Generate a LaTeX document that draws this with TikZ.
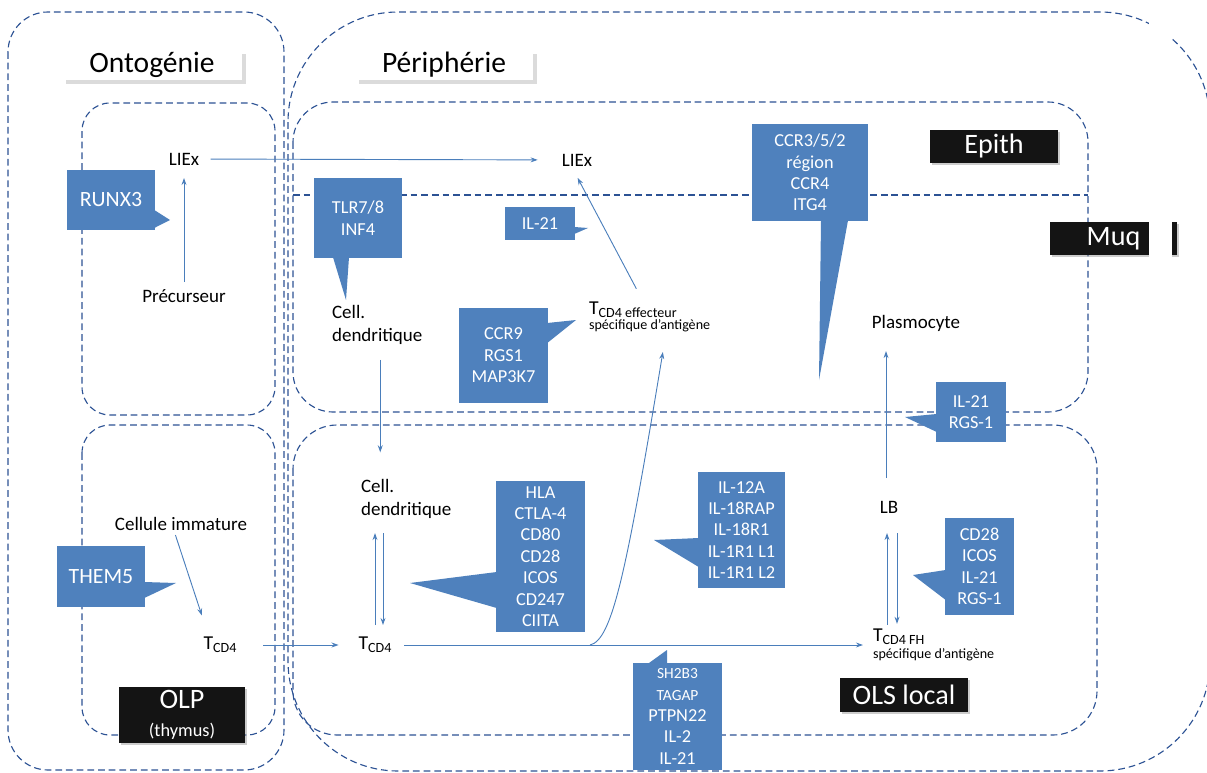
\documentclass[tikz,border=0pt]{standalone}
\usepackage{fontspec}
\setmainfont{Carlito}
\usetikzlibrary{arrows.meta,calc,shadows}

\definecolor{frameblue}{RGB}{44,82,148}
\definecolor{lineblue}{RGB}{74,126,187}
\definecolor{boxblue}{RGB}{79,129,189}

\newcommand\tcell[1]{{\fontsize{14}{16}\selectfont T}\raisebox{-2pt}{\fontsize{10}{11}\selectfont #1}}

\begin{document}
\begin{tikzpicture}[x=0.025cm, y=-0.025cm,
	zone/.style={draw=frameblue, line width=0.8pt, dash pattern=on 4.8pt off 2.8pt},
	flow/.style={draw=lineblue, line width=0.65pt, -{Stealth[length=5pt,width=3.5pt]}},
	cell/.style={font=\fontsize{13.5}{16.5}\selectfont, inner sep=2pt},
	callout/.style={fill=boxblue, text=white, align=center, inner sep=0pt, font=\fontsize{13}{15.2}\selectfont},
	title/.style={fill=white, inner sep=0pt, minimum height=0.75cm, font=\fontsize{21}{24}\selectfont, drop shadow={shadow xshift=0.09cm, shadow yshift=-0.09cm, fill=black!40, opacity=0.35}},
	site/.style={fill=black!92, text=white, inner sep=0pt, font=\fontsize{20}{23}\selectfont, drop shadow={shadow xshift=0.06cm, shadow yshift=-0.06cm, fill=black!50, opacity=0.4}}]
	\useasboundingbox (0,0) rectangle (1207,773);
	
	% Draw dashed zones
	\draw[zone, rounded corners=1cm] (8,12) rectangle (284,770);
	\draw[zone, rounded corners=0.7cm] (82,103) rectangle (275,415);
	\draw[zone, rounded corners=0.7cm] (82,425) rectangle (275,735);
	\draw[zone, rounded corners=2.75cm] (288,12) rectangle (1210,771);
	\draw[zone, rounded corners=1cm] (293,102) rectangle (1088,412);
	\draw (293,195) [zone] -- (1088,195);
	\draw[zone, rounded corners=1.1cm] (293,425) rectangle (1097,735);
	
	% Draw zone titles
	\node[title, minimum width=4.5cm] (onto) at (152,65) {Ontogénie};
	\node[title, minimum width=4.45cm] (peri) at (444,65) {Périphérie};
	\node[site, minimum width=3.2cm, minimum height=0.825cm] (epith) at (994,146.5) {Epith};
	\node[site, minimum width=3.175cm, minimum height=0.825cm] (muq) at (1113.5,238.5) {Muq};
	\node[site, minimum width=3.2cm, minimum height=0.85cm] (ols) at (904,695) {OLS local};
	\node[site, minimum width=3.15cm, minimum height=1.4cm, align=center] (olp) at (182,715) {OLP\\[-3pt]{\fontsize{13}{14}\selectfont(thymus)}};
	\fill[white] (1149,0) rectangle (1172,265);
	
	% Draw gene callouts
	\node[callout, minimum width=2.2cm, minimum height=1.5cm, font=\fontsize{15.5}{17}\selectfont] (runx) at (111,200) {RUNX3};
	\fill[boxblue] ($(runx.east)+(-1,10)$) -- (170,220) -- ($(runx.east)+(-1,28)$) -- cycle;
	
	\node[callout, minimum width=2.2cm, minimum height=2cm] (tlr) at (358,218) {TLR7/8\\INF4};
	\fill[boxblue] ($(tlr.south)+(-25,-1)$) -- (346,300) -- ($(tlr.south)+(-9,-1)$) -- cycle;
	
	\node[callout, minimum width=1.75cm, minimum height=0.825cm] (iltop) at (540,223.5) {IL-21};
	\fill[boxblue] ($(iltop.east)+(-1,3.5)$) -- (588,228) -- ($(iltop.east)+(-1,10.5)$) -- cycle;
	
	\node[callout, minimum width=2.225cm, minimum height=2.375cm] (ccr9) at (503.5,355.5) {CCR9\\RGS1\\MAP3K7};
	\fill[boxblue] ($(ccr9.east)+(-1,-32.5)$) -- (576,320) -- ($(ccr9.east)+(-1,-12.5)$) -- cycle;
	
	\node[callout, minimum width=2.9cm, minimum height=2.425cm] (ccr3) at (810,172.5) {CCR3/5/2\\région\\CCR4\\ITG4};
	\fill[boxblue] ($(ccr3.south)+(11,-1)$) -- (819,380) -- ($(ccr3.south)+(38,-1)$) -- cycle;
	
	\node[callout, minimum width=1.75cm, minimum height=1.5cm] (ilrgs) at (971,412) {IL-21\\RGS-1};
	\fill[boxblue] ($(ilrgs.west)+(1,2)$) -- (905,417) -- ($(ilrgs.west)+(1,20)$) -- cycle;
	
	\node[callout, minimum width=2.225cm, minimum height=3.775cm] (hla) at (540.5,556.5) {HLA\\CTLA-4\\CD80\\CD28\\ICOS\\CD247\\CIITA};
	\fill[boxblue] ($(hla.west)+(1,15.5)$) -- (410,583) -- ($(hla.west)+(1,51.5)$) -- cycle;
	
	\node[callout, minimum width=2.175cm, minimum height=2.9cm] (il12) at (741.5,530) {IL-12A\\IL-18RAP\\IL-18R1\\IL-1R1 L1\\IL-1R1 L2};
	\fill[boxblue] ($(il12.west)+(1,8)$) -- (654,540) -- ($(il12.west)+(1,37)$) -- cycle;
	
	\node[callout, minimum width=1.725cm, minimum height=2.425cm] (cd28) at (979.5,566.5) {CD28\\ICOS\\IL-21\\RGS-1};
	\fill[boxblue] ($(cd28.west)+(1,3.5)$) -- (913,575) -- ($(cd28.west)+(1,33.5)$) -- cycle;
	
	\node[callout, minimum width=2.225cm, minimum height=2.675cm] (sh2b) at (677.5,716.5) {\fontsize{11}{12.5}\selectfont SH2B3\\\fontsize{11}{12.5}\selectfont TAGAP\\\fontsize{13}{15.2}\selectfont PTPN22\\\fontsize{13}{15.2}\selectfont IL-2\\\fontsize{13}{15.2}\selectfont IL-21};
	\fill[boxblue] ($(sh2b.north)+(-29.5,1)$) -- (667,650) -- ($(sh2b.north)+(-10.5,1)$) -- cycle;
	
	\node[callout, minimum width=2.2cm, minimum height=1.525cm, font=\fontsize{15.5}{17}\selectfont] (them) at (101,576.5) {THEM5};
	\fill[boxblue] ($(them.east)+(-1,5.5)$) -- (176,583) -- ($(them.east)+(-1,21.5)$) -- cycle;
	
	% Draw cells
	\node[cell] (liexO) at (184,159) {LIEx};
	\node[cell] (pre) at (184,296) {Précurseur};
	\node[cell] (liexP) at (577,160) {LIEx};
	\node[cell, align=left, anchor=west] (cdU) at (329,325) {Cell.\\dendritique};
	\node[cell, align=left, anchor=west, font=\fontsize{10}{11}\selectfont] (teff) at (586,317) {\tcell{CD4 effecteur}\\spécifique d’antigène};
	\node[cell] (plasmo) at (916,323) {Plasmocyte};
	\node[cell, align=left, anchor=west] (cdL) at (358,499) {Cell.\\dendritique};
	\node[cell] (cimm) at (181,524) {Cellule immature};
	\node[cell] (tcdO) at (220,645) {\tcell{CD4}};
	\node[cell] (tcdM) at (375,645) {\tcell{CD4}};
	\node[cell] (lb) at (889,507) {LB};
	\node[cell, align=left, anchor=west, font=\fontsize{10}{12}\selectfont] (tfh) at (870,645) {\tcell{CD4 FH}\\spécifique d’antigène};
	\coordinate (fork) at (590,645);
	
	% Draw ontogeny arrows
	\draw[flow, shorten <=3pt, shorten >=7pt] (pre) -- (liexO);
	\draw[flow, shorten <=1pt, shorten >=14pt] ([xshift=-0.15cm]cimm.south) -- ([xshift=-0.3cm]tcdO.north);
	
	% Draw migration arrows
	\draw[flow, shorten <=6pt, shorten >=15pt] (liexO) -- (liexP);
	\draw[flow, shorten <=17pt, shorten >=12pt] (tcdO) -- (tcdM);
	
	% Draw peripheral arrows
	\draw[flow, shorten <=8pt, shorten >=7pt] ([xshift=-0.2cm]teff.north) -- ([xshift=-0.1cm]liexP.south);
	\draw[flow, shorten <=8.5pt, shorten >=17pt] ([xshift=0.075cm]cdU.south) -- ([xshift=0.075cm]cdU.south |- cdL.north);
	\draw[flow, shorten <=6.5pt, shorten >=8pt] (tcdM.north) -- (tcdM.north |- cdL.south);
	\draw[flow, shorten <=8pt, shorten >=6.5pt] ([xshift=0.2cm]tcdM.north |- cdL.south) -- ([xshift=0.2cm]tcdM.north);
	\draw[flow, shorten <=7pt, shorten >=5pt] (tcdM) -- (tfh);
	\draw[flow, shorten >=12pt] (fork) .. controls (612,640) and (626,575) .. ([xshift=0.4cm]teff.south);
	\draw[flow, shorten <=14pt, shorten >=12pt] ([xshift=-0.075cm]lb.north) -- ([xshift=-0.075cm]lb.north |- plasmo.south);
	\draw[flow, shorten <=1pt, shorten >=12pt] ([xshift=-0.05cm]lb.south |- tfh.north) -- ([xshift=-0.05cm]lb.south);
	\draw[flow, shorten <=12pt, shorten >=1.5pt] ([xshift=0.2cm]lb.south) -- ([xshift=0.2cm]lb.south |- tfh.north);
\end{tikzpicture}
\end{document}
